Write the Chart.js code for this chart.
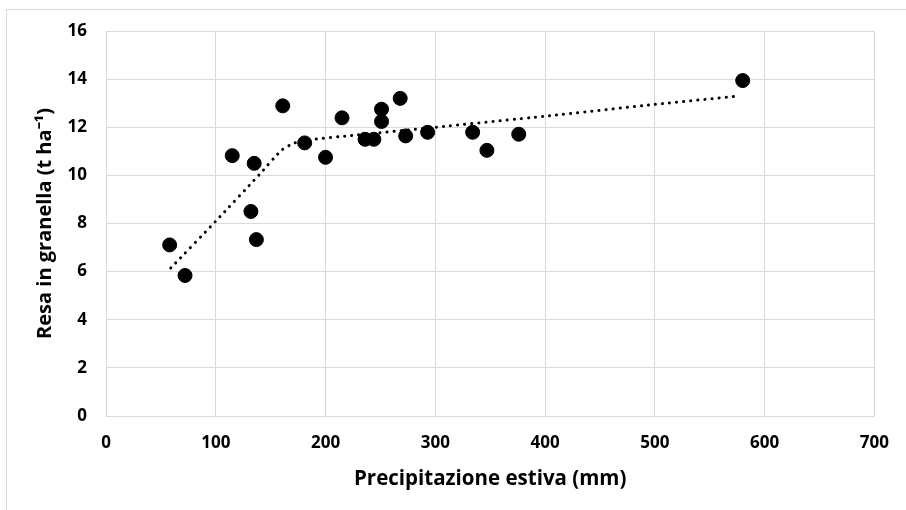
<!DOCTYPE html>
<html>
<head>
<meta charset="utf-8">
<script src="https://cdn.jsdelivr.net/npm/chart.js@4/dist/chart.umd.min.js"></script>
<style>
  html, body { margin: 0; padding: 0; background: #fff; overflow: hidden; }
  #wrap { position: relative; width: 906px; height: 510px; }
  #frame { position: absolute; left: 6px; top: 9px; width: 1000px; height: 1000px;
           border-left: 1px solid #d9d9d9; border-top: 1px solid #d9d9d9; pointer-events: none; }
</style>
</head>
<body>
<div id="wrap">
  <canvas id="chart" width="906" height="510"></canvas>
  <div id="frame"></div>
</div>
<script>
// osservazioni: precipitazione estiva (mm) e resa (t/ha)
const rainMm = [58, 72, 115, 135, 132, 137, 161, 181, 200, 215, 236, 244, 251, 251, 268, 273, 293, 334, 347, 376, 580];
const yieldT = [7.11, 5.84, 10.82, 10.50, 8.50, 7.33, 12.89, 11.35, 10.75, 12.39, 11.50, 11.50, 12.75, 12.24, 13.20, 11.64, 11.79, 11.79, 11.04, 11.71, 13.94];

// linea di tendenza (punteggiata)
const trendX = [59, 100, 140, 160, 172, 190, 220, 300, 400, 500, 577];
const trendY = [6.15, 8.1, 10.05, 11.05, 11.35, 11.5, 11.64, 12.0, 12.46, 12.95, 13.3];

const xTitle = 'Precipitazione estiva (mm)';
const yTitle = 'Resa in granella (t ha\u207B\u00B9)';

const gridColor = '#d9d9d9';
const fontFamily = "'Open Sans', 'Liberation Sans', sans-serif";

const points = rainMm.map((x, i) => ({ x: x, y: yieldT[i] }));
const trend = trendX.map((x, i) => ({ x: x, y: trendY[i] }));

new Chart(document.getElementById('chart'), {
    type: 'scatter',
    data: {
        datasets: [
            {
                label: 'Osservazioni',
                data: points,
                backgroundColor: '#000',
                borderColor: '#000',
                pointRadius: 7,
                order: 1
            },
            {
                label: 'Tendenza',
                data: trend,
                showLine: true,
                pointRadius: 0,
                borderColor: '#000',
                borderWidth: 3,
                borderDash: [0.1, 7],
                borderCapStyle: 'round',
                tension: 0.2,
                order: 2
            }
        ]
    },
    options: {
        responsive: false,
        animation: false,
        layout: { padding: { left: 0, right: 30, top: 31, bottom: 0 } },
        plugins: { legend: { display: false }, tooltip: { enabled: false } },
        scales: {
            x: {
                type: 'linear',
                min: 0,
                max: 700,
                ticks: { stepSize: 100, padding: 17, color: '#000',
                         font: { family: fontFamily, size: 17, weight: 'bold' } },
                grid: { color: gridColor, drawTicks: false },
                border: { color: gridColor },
                title: { display: true, text: xTitle, color: '#000', padding: { top: 0, bottom: 19 },
                         font: { family: fontFamily, size: 20.5, weight: 'bold' } },
                afterFit: (scale) => { scale.height = 94; }
            },
            y: {
                min: 0,
                max: 16,
                ticks: { stepSize: 2, padding: 19, color: '#000',
                         font: { family: fontFamily, size: 17, weight: 'bold' } },
                grid: { color: gridColor, drawTicks: false },
                border: { color: gridColor },
                title: { display: true, text: yTitle, color: '#000', padding: { top: 33, bottom: 0 },
                         font: { family: fontFamily, size: 20, weight: 'bold' } },
                afterFit: (scale) => { scale.width = 106; }
            }
        }
    }
});
</script>
</body>
</html>
